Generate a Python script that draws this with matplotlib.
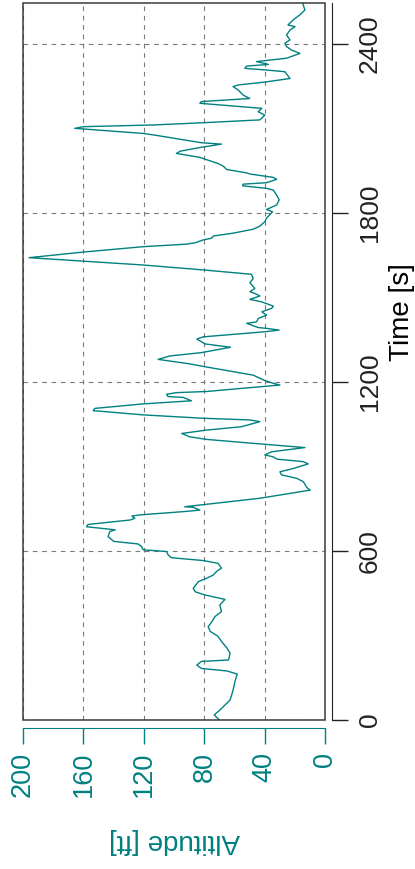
import matplotlib.pyplot as plt
from matplotlib.patches import Rectangle

# flight log: time [s] and altitude [ft]
time_s = [0, 18, 35, 71, 106, 136, 163, 174, 183, 195, 208, 213, 237, 255, 279,
          297, 314, 331, 349, 367, 385, 408, 428, 444, 455, 467, 491, 503, 515,
          527, 539, 556, 566, 576, 586, 598, 604, 616, 625, 634, 651, 669, 675,
          686, 694, 710, 716, 724, 728, 740, 745, 755, 757, 787, 816, 826, 837,
          846, 858, 870, 881, 893, 909, 917, 926, 934, 941, 952, 967, 982, 996,
          1005, 1017, 1029, 1041, 1059, 1065, 1071, 1083, 1098, 1106, 1122, 1133,
          1145, 1148, 1156, 1162, 1166, 1189, 1195, 1205, 1224, 1254, 1264, 1280,
          1292, 1304, 1323, 1335, 1346, 1352, 1360, 1378, 1384, 1390, 1393, 1408,
          1413, 1425, 1437, 1449, 1461, 1469, 1484, 1493, 1505, 1514, 1520, 1532,
          1552, 1567, 1582, 1597, 1615, 1641, 1661, 1680, 1689, 1694, 1704, 1710,
          1718, 1728, 1742, 1753, 1769, 1781, 1804, 1812, 1828, 1846, 1863, 1881,
          1887, 1896, 1902, 1907, 1919, 1926, 1938, 1942, 1954, 1966, 1975, 1993,
          1997, 2011, 2019, 2032, 2044, 2049, 2071, 2076, 2082, 2100, 2106, 2112,
          2120, 2130, 2147, 2159, 2171, 2189, 2195, 2206, 2218, 2236, 2248, 2254,
          2265, 2277, 2301, 2307, 2313, 2321, 2327, 2337, 2349, 2366, 2378, 2390,
          2402, 2414, 2431, 2449, 2461, 2467, 2485, 2503, 2520, 2538, 2546]
altitude_ft = [70, 73.5, 69.8, 63, 61, 59.8, 58.3, 65, 82, 85, 82, 64, 63, 65, 68.7,
               71, 76, 77.5, 75, 73, 68.7, 69.8, 66.4, 79.7, 86, 87.4, 84, 78.6, 74,
               72, 68.7, 70.9, 80.8, 101.8, 104, 105, 120.5, 121.6, 124, 140, 143.7,
               142.6, 139, 158, 157, 129, 126, 128, 122.7, 93, 83, 87.4, 93, 43.3, 10,
               12.4, 13.5, 14.6, 19, 29, 30, 21, 11.3, 14.6, 32, 34.4, 40, 35.5, 13.5,
               47.7, 78.6, 89.6, 95, 78.6, 55.4, 43.3, 50, 80.8, 120.5, 153.6, 152.5,
               120.5, 88.5, 94, 104, 105, 98.5, 78.6, 30, 34.4, 40, 47.7, 79.7, 89.6,
               110.6, 103, 82, 62.7, 79.7, 83, 85, 80.8, 40, 30.5, 38.9, 44.4, 52,
               45.5, 44.4, 38.9, 42, 35.5, 34.4, 42, 49.9, 43.3, 46.6, 49.9, 46.6,
               49.9, 47.7, 48.8, 79.7, 120.5, 196, 160, 120.5, 91.8, 86, 80.8, 75.3,
               74, 61, 47.7, 43.3, 40, 38.9, 34.9, 38.9, 32.2, 30.5, 32.2, 34.4,
               38.9, 54.7, 54.3, 38.9, 32.2, 34.4, 49.9, 52, 65.3, 67.5, 70.9, 80.8,
               83, 98.5, 96, 83, 68.7, 82, 107, 112.8, 120.5, 165.8, 160, 114,
               80.8, 43.3, 40, 44.4, 42, 83, 82, 50, 54.3, 57.6, 61, 57.6,
               38.9, 23.4, 26.7, 38.9, 53.2, 52, 37.7, 45.5, 25.6, 16.8, 22.3, 25.6,
               26.7, 23.4, 25.6, 23.4, 20, 24.7, 21.2, 16.8, 13.5, 14.6, 15]
alt_ticks = [200, 160, 120, 80, 40, 0]
time_ticks = [0, 600, 1200, 1800, 2400]

teal = '#008080'
plt.rcParams['font.family'] = ['Liberation Sans', 'DejaVu Sans']

fig = plt.figure(figsize=(4.15, 8.69), dpi=100)
ax = fig.add_axes([23 / 415, 149 / 869, 302.3 / 415, 717.3 / 869])

ax.plot(altitude_ft, time_s, color=teal, lw=1)
ax.set_xlim(200, 0)
ax.set_ylim(0, 2546)
ax.set_xticks(alt_ticks)
ax.set_yticks(time_ticks)
ax.grid(True, color='#7a7a7a', lw=0.8, ls=(0, (4.2, 4.2)))

# plot box, axes drawn detached from it
ax.add_patch(Rectangle((0, 0), 1, 1, transform=ax.transAxes, fill=False,
                       ec='#3a3a3a', lw=1.1, clip_on=False, zorder=5))
ax.spines['top'].set_visible(False)
ax.spines['left'].set_visible(False)
ax.spines['bottom'].set_position(('outward', 5.8))
ax.spines['bottom'].set_color(teal)
ax.spines['right'].set_position(('outward', 5))
ax.spines['right'].set_color('#222222')
ax.yaxis.tick_right()
ax.yaxis.set_label_position('right')

ax.tick_params(axis='x', colors=teal, length=11.3, width=1, pad=6,
               labelsize=19.5, labelrotation=90)
ax.tick_params(axis='y', colors='#222222', length=11.3, width=1, pad=7,
               labelsize=19, labelrotation=90)
plt.setp(ax.get_yticklabels(), va='center')

ax.set_xlabel('Altitude [ft]', color=teal, fontsize=20, rotation=180, labelpad=22)
ax.set_ylabel('Time [s]', fontsize=20)
ax.yaxis.set_label_coords(1.21, 0.569)

fig.savefig('out.png', dpi=100)
